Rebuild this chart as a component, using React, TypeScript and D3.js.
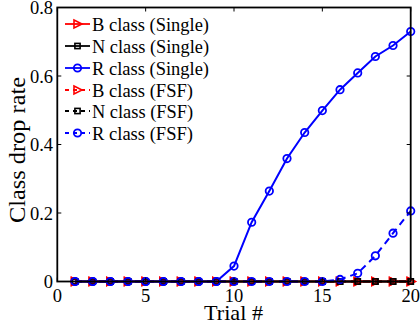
import React from "react";
import * as d3 from "d3";

const trials = d3.range(1, 21);
const bSingle = [0,0,0,0,0,0,0,0,0,0,0,0,0,0,0,0,0,0,0,0];
const nSingle = [0,0,0,0,0,0,0,0,0,0,0,0,0,0,0,0,0,0,0,0];
const rSingle = [0,0,0,0,0,0,0,0,0,0.045,0.173,0.264,0.359,0.435,0.499,0.56,0.609,0.657,0.689,0.73];
const bFSF = [0,0,0,0,0,0,0,0,0,0,0,0,0,0,0,0,0,0,0,0];
const nFSF = [0,0,0,0,0,0,0,0,0,0,0,0,0,0,0,0,0,0,0,0];
const rFSF = [0,0,0,0,0,0,0,0,0,0,0,0,0,0,0,0.006,0.024,0.075,0.141,0.206];
const xTicks = [0, 5, 10, 15, 20];
const yTicks = [0, 0.2, 0.4, 0.6, 0.8];

type Series = { name: string; values: number[]; color: string; marker: "tri" | "sq" | "circ"; dash: boolean };
const series: Series[] = [
  { name: "B class (Single)", values: bSingle, color: "#ff0000", marker: "tri", dash: false },
  { name: "N class (Single)", values: nSingle, color: "#000000", marker: "sq", dash: false },
  { name: "R class (Single)", values: rSingle, color: "#0000ff", marker: "circ", dash: false },
  { name: "B class (FSF)", values: bFSF, color: "#ff0000", marker: "tri", dash: true },
  { name: "N class (FSF)", values: nFSF, color: "#000000", marker: "sq", dash: true },
  { name: "R class (FSF)", values: rFSF, color: "#0000ff", marker: "circ", dash: true },
];

const L = 57.3, R = 410.7, T = 7.5, B = 281.5;

function Marker({ kind, x, y, color }: { kind: string; x: number; y: number; color: string }) {
  if (kind === "tri") {
    return <path d={`M${x - 3.5},${y - 4}L${x + 4.5},${y}L${x - 3.5},${y + 4}Z`} fill="none" stroke={color} strokeWidth={1.6} />;
  }
  if (kind === "sq") {
    return <rect x={x - 2.6} y={y - 2.6} width={5.2} height={5.2} fill="none" stroke={color} strokeWidth={1.6} />;
  }
  return <circle cx={x} cy={y} r={3.7} fill="none" stroke={color} strokeWidth={1.8} />;
}

export default function App() {
  const x = d3.scaleLinear().domain([0, 20]).range([L, R]);
  const y = d3.scaleLinear().domain([0, 0.8]).range([B, T]);
  const line = d3.line<number>().x((_, i) => x(trials[i])).y((d) => y(d));
  const font = "'Liberation Serif', 'Times New Roman', serif";
  const legendY = [24, 46, 68, 90, 111, 133];
  return (
    <svg width={420} height={331} style={{ position: "absolute", left: 0, top: 0, background: "#fff" }}>
      <rect x={0} y={0} width={420} height={331} fill="#fff" />
      {series.map((s, si) => (
        <g key={si}>
          <path d={line(s.values) || ""} fill="none" stroke={s.color} strokeWidth={2} strokeDasharray={s.dash ? "7,5" : undefined} />
          {s.values.map((v, i) => (
            <Marker key={i} kind={s.marker} x={x(trials[i])} y={y(v)} color={s.color} />
          ))}
        </g>
      ))}
      <rect x={L} y={T} width={R - L} height={B - T} fill="none" stroke="#000" strokeWidth={1.8} />
      {xTicks.map((t) => (
        <g key={"x" + t}>
          <line x1={x(t)} x2={x(t)} y1={B} y2={B - 4} stroke="#000" strokeWidth={1} />
          <line x1={x(t)} x2={x(t)} y1={T} y2={T + 4} stroke="#000" strokeWidth={1} />
          <text x={x(t)} y={302} textAnchor="middle" fontFamily={font} fontSize={18.5}>{t}</text>
        </g>
      ))}
      {yTicks.map((t) => (
        <g key={"y" + t}>
          <line x1={L} x2={L + 4} y1={y(t)} y2={y(t)} stroke="#000" strokeWidth={1} />
          <line x1={R} x2={R - 4} y1={y(t)} y2={y(t)} stroke="#000" strokeWidth={1} />
          <text x={53} y={y(t) + 6.5} textAnchor="end" fontFamily={font} fontSize={18.5}>{t === 0 ? "0" : t.toFixed(1)}</text>
        </g>
      ))}
      <text x={204} y={320} fontFamily={font} fontSize={22} textLength={59} lengthAdjust="spacingAndGlyphs">Trial #</text>
      <text transform="translate(25,223) rotate(-90)" fontFamily={font} fontSize={23} textLength={146} lengthAdjust="spacingAndGlyphs">Class drop rate</text>
      {series.map((s, i) => (
        <g key={"lg" + i}>
          <line x1={65} x2={90} y1={legendY[i]} y2={legendY[i]} stroke={s.color} strokeWidth={1.8} strokeDasharray={s.dash ? "4,4" : undefined} />
          <Marker kind={s.marker} x={77.5} y={legendY[i]} color={s.color} />
          <text x={92} y={legendY[i] + 6.5} fontFamily={font} fontSize={18.5} textLength={s.dash ? 101 : 117} lengthAdjust="spacingAndGlyphs">{s.name}</text>
        </g>
      ))}
    </svg>
  );
}
